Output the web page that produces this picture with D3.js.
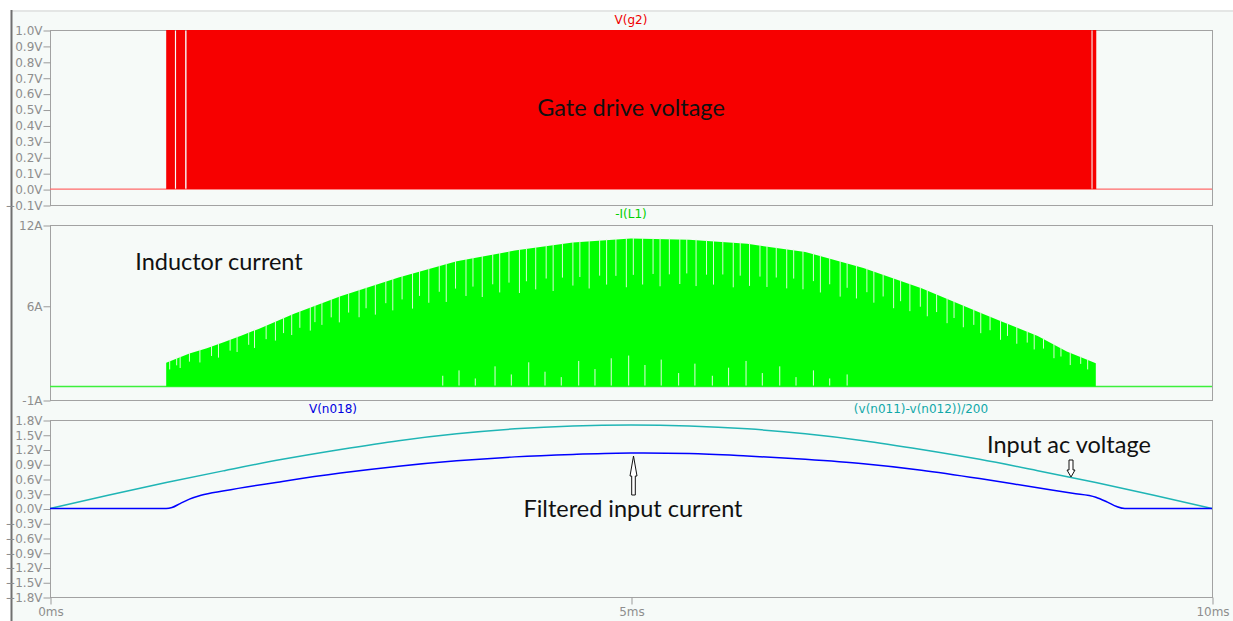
<!DOCTYPE html>
<html>
<head>
<meta charset="utf-8">
<script src="https://cdn.jsdelivr.net/npm/d3@7"></script>
<style>
  body { margin: 0; background: #fff; }
  .tick text { font-family: "DejaVu Sans", sans-serif; font-size: 12px; fill: #8e8e8e; }
  .tick line { stroke: #9a9a9a; }
  .trace-title { font-family: "DejaVu Sans", sans-serif; font-size: 12px; }
  .note { font-family: Lato, "Open Sans", sans-serif; font-size: 23.5px; fill: #111; }
</style>
</head>
<body>
<svg id="chart" width="1233" height="621"></svg>
<script>
// time axis (ms)
const xTicks = [0, 5, 10]

// V(g2): gate pulses, [on, off] in ms
const gatePulses = [[1.0, 1.075], [1.085, 1.163], [1.175, 8.963], [8.972, 9.004]]
const gateTicks = [-0.1, 0, 0.1, 0.2, 0.3, 0.4, 0.5, 0.6, 0.7, 0.8, 0.9, 1.0]

// -I(L1): peak envelope of the switching current (A)
const ilT = [1.0, 1.2, 1.35, 1.5, 1.65, 1.8, 1.95, 2.1, 2.3, 2.5, 3.0, 3.5, 4.0, 4.5, 5.0, 5.5, 6.0, 6.5, 7.0, 7.5, 8.0, 8.2, 8.5, 8.75, 9.0]
const ilPeak = [1.77, 2.45, 2.85, 3.3, 3.8, 4.3, 4.85, 5.4, 6.05, 6.7, 8.1, 9.3, 10.1, 10.7, 11.0, 10.9, 10.6, 10.0, 8.8, 7.3, 5.5, 4.8, 3.75, 2.6, 1.73]
// ripple valleys seen from the top: [ms, drop in A]
const ilDips = [
  [1.03, 0.6], [1.09, 0.5], [1.12, 0.8], [1.20, 0.6], [1.29, 0.9], [1.39, 0.7], [1.45, 1.0], [1.55, 0.8],
  [1.61, 1.1], [1.71, 0.9], [1.76, 1.3], [1.86, 1.0], [1.94, 1.4], [2.01, 1.1], [2.08, 1.5], [2.15, 1.2],
  [2.24, 1.7], [2.28, 1.2], [2.34, 1.6], [2.42, 1.3], [2.49, 1.9], [2.57, 1.4], [2.66, 2.0], [2.72, 1.5],
  [2.80, 2.2], [2.89, 1.6], [2.95, 2.3], [3.03, 1.7], [3.12, 2.6], [3.18, 1.8], [3.26, 2.5], [3.35, 1.9],
  [3.41, 2.8], [3.49, 2.0], [3.58, 2.7], [3.64, 2.1], [3.72, 3.0], [3.81, 2.2], [3.87, 2.9], [3.95, 2.3],
  [4.04, 3.2], [4.10, 2.4], [4.18, 3.1], [4.27, 2.4], [4.33, 3.4], [4.41, 2.5], [4.50, 3.2], [4.56, 2.6],
  [4.64, 3.5], [4.73, 2.6], [4.79, 3.3], [4.87, 2.7], [4.96, 3.6], [5.02, 2.7], [5.10, 3.4], [5.19, 2.6],
  [5.25, 3.5], [5.33, 2.6], [5.42, 3.3], [5.48, 2.5], [5.56, 3.4], [5.65, 2.5], [5.71, 3.2], [5.79, 2.4],
  [5.88, 3.3], [5.94, 2.4], [6.02, 3.1], [6.11, 2.3], [6.17, 3.0], [6.25, 2.2], [6.34, 2.9], [6.40, 2.1],
  [6.48, 2.8], [6.57, 2.0], [6.63, 2.7], [6.71, 1.9], [6.80, 2.6], [6.86, 1.8], [6.94, 2.4], [7.03, 1.7],
  [7.09, 2.3], [7.17, 1.6], [7.26, 2.2], [7.32, 1.5], [7.40, 2.0], [7.49, 1.4], [7.55, 1.9], [7.63, 1.3],
  [7.72, 1.8], [7.78, 1.2], [7.86, 1.6], [7.95, 1.1], [8.01, 1.5], [8.09, 1.0], [8.18, 1.4], [8.24, 0.9],
  [8.32, 1.2], [8.41, 0.8], [8.47, 1.1], [8.55, 0.7], [8.64, 1.0], [8.70, 0.6], [8.78, 0.9], [8.87, 0.5],
  [8.93, 0.7]
]
// cycles where the current falls back near zero: [ms, height of gap in A]
const ilGaps = [
  [3.38, 0.8], [3.52, 1.2], [3.66, 0.6], [3.83, 1.5], [3.97, 0.9], [4.12, 1.8], [4.26, 1.1], [4.40, 0.7],
  [4.55, 1.9], [4.69, 1.3], [4.83, 2.1], [4.98, 2.3], [5.12, 1.6], [5.26, 2.0], [5.41, 1.0], [5.55, 1.7],
  [5.70, 0.8], [5.84, 1.4], [5.99, 1.9], [6.13, 1.0], [6.28, 1.5], [6.42, 0.7], [6.57, 1.2], [6.71, 0.6],
  [6.86, 0.9]
]
const ilTicks = [-1, 6, 12]

// V(n018), filtered input current
const filtT = [0, 0.5, 1.0, 1.05, 1.12, 1.2, 1.3, 1.5, 2.0, 2.5, 3.0, 3.5, 4.0, 4.5, 5.0, 5.5, 6.0, 6.5, 7.0, 7.5, 8.0, 8.5, 8.8, 9.0, 9.1, 9.18, 9.25, 9.5, 10]
const filtV = [0, 0, 0, 0.02, 0.10, 0.19, 0.27, 0.36, 0.55, 0.72, 0.86, 0.97, 1.05, 1.10, 1.13, 1.12, 1.07, 1.00, 0.91, 0.78, 0.61, 0.42, 0.31, 0.23, 0.13, 0.04, 0, 0, 0]
// (v(n011)-v(n012))/200, input ac voltage
const acT = [0, 0.5, 1, 1.5, 2, 2.5, 3, 3.5, 4, 4.5, 5, 5.5, 6, 6.5, 7, 7.5, 8, 8.5, 9, 9.5, 10]
const acV = [0, 0.27, 0.53, 0.77, 1.0, 1.2, 1.38, 1.52, 1.62, 1.68, 1.7, 1.68, 1.62, 1.52, 1.38, 1.2, 1.0, 0.77, 0.53, 0.27, 0]
const vTicks = [-1.8, -1.5, -1.2, -0.9, -0.6, -0.3, 0, 0.3, 0.6, 0.9, 1.2, 1.5, 1.8]

const svg = d3.select("#chart")
const left = 50, right = 1212

// window background
svg.append("rect")
  .attr("x", 11).attr("y", 11).attr("width", 1222).attr("height", 610)
  .attr("fill", "#f6faf8")
svg.append("line")
  .attr("x1", 11).attr("x2", 1233).attr("y1", 11).attr("y2", 11)
  .attr("stroke", "#e4e6e5").attr("stroke-width", 2)
svg.append("line")
  .attr("x1", 11.5).attr("x2", 11.5).attr("y1", 10).attr("y2", 621)
  .attr("stroke", "#707070").attr("stroke-width", 2)

const x = d3.scaleLinear().domain([0, 10]).range([left, right])

function pane(top, bottom, domain, ticks, fmt) {
  const y = d3.scaleLinear().domain(domain).range([bottom, top])
  const g = svg.append("g")
  g.append("rect")
    .attr("x", left + 0.5).attr("y", top + 0.5)
    .attr("width", right - left).attr("height", bottom - top)
    .attr("fill", "none").attr("stroke", "#a2a2a2")
  const ax = g.append("g")
    .attr("transform", "translate(" + (left + 0.5) + ",0.5)")
    .call(d3.axisLeft(y).tickValues(ticks).tickFormat(fmt).tickSize(7).tickPadding(1))
  ax.select(".domain").remove()
  return { g: g, y: y }
}

function title(txt, cx, cy, colour) {
  svg.append("text")
    .attr("class", "trace-title")
    .attr("x", cx).attr("y", cy)
    .attr("text-anchor", "middle")
    .attr("fill", colour)
    .text(txt)
}

const fmtV = d => d3.format(".1f")(d) + "V"

// --- pane 1: gate drive ---
const p1 = pane(30, 205, [-0.1, 1.0], gateTicks, fmtV)
title("V(g2)", 631, 24, "#f00000")
p1.g.append("line")
  .attr("x1", x(0)).attr("x2", x(10))
  .attr("y1", p1.y(0)).attr("y2", p1.y(0))
  .attr("stroke", "#ff6a6a").attr("stroke-width", 1.2)
p1.g.selectAll(".pulse")
  .data(gatePulses)
  .join("rect")
  .attr("class", "pulse")
  .attr("x", d => x(d[0]))
  .attr("width", d => x(d[1]) - x(d[0]))
  .attr("y", p1.y(1.0))
  .attr("height", p1.y(0) - p1.y(1.0))
  .attr("fill", "#f70000")

// --- pane 2: inductor current ---
const p2 = pane(225, 400, [-1, 12], ilTicks, d => d + "A")
title("-I(L1)", 631, 218, "#00d000")
const env = d3.scaleLinear().domain(ilT).range(ilPeak)
p2.g.append("line")
  .attr("x1", x(0)).attr("x2", x(10))
  .attr("y1", p2.y(0)).attr("y2", p2.y(0))
  .attr("stroke", "#3cf03c").attr("stroke-width", 1.5)
p2.g.append("path")
  .datum(ilT)
  .attr("fill", "#00ff00")
  .attr("d", d3.area()
    .x(t => x(t))
    .y0(p2.y(0))
    .y1(t => p2.y(env(t))))
p2.g.selectAll(".dip")
  .data(ilDips)
  .join("line")
  .attr("class", "dip")
  .attr("x1", d => x(d[0])).attr("x2", d => x(d[0]))
  .attr("y1", d => p2.y(env(d[0])) - 1)
  .attr("y2", d => p2.y(env(d[0]) - d[1]))
  .attr("stroke", "#d9fbd4").attr("stroke-width", 1)
p2.g.selectAll(".gap")
  .data(ilGaps)
  .join("line")
  .attr("class", "gap")
  .attr("x1", d => x(d[0])).attr("x2", d => x(d[0]))
  .attr("y1", p2.y(0) - 1)
  .attr("y2", d => p2.y(d[1]))
  .attr("stroke", "#e4fbe0").attr("stroke-width", 1)

// --- pane 3: input voltage and filtered current ---
const p3 = pane(420, 597, [-1.8, 1.8], vTicks, fmtV)
title("V(n018)", 333, 413, "#0000e0")
title("(v(n011)-v(n012))/200", 921, 413, "#10a8a8")
p3.g.append("path")
  .datum(d3.zip(acT, acV))
  .attr("fill", "none")
  .attr("stroke", "#1fb5b5").attr("stroke-width", 1.5)
  .attr("d", d3.line().x(d => x(d[0])).y(d => p3.y(d[1])).curve(d3.curveMonotoneX))
p3.g.append("path")
  .datum(d3.zip(filtT, filtV))
  .attr("fill", "none")
  .attr("stroke", "#0000ff").attr("stroke-width", 1.5)
  .attr("d", d3.line().x(d => x(d[0])).y(d => p3.y(d[1])).curve(d3.curveMonotoneX))

// time axis under the last pane
const xa = svg.append("g")
  .attr("transform", "translate(0.5," + 597.5 + ")")
  .call(d3.axisBottom(x).tickValues(xTicks).tickFormat(d => d + "ms").tickSize(7).tickPadding(3))
xa.select(".domain").remove()

// annotations
function note(txt, cx, cy) {
  svg.append("text").attr("class", "note")
    .attr("x", cx).attr("y", cy).attr("text-anchor", "middle").text(txt)
}
note("Gate drive voltage", 631, 116)
note("Inductor current", 219, 270)
note("Filtered input current", 633, 517)
note("Input ac voltage", 1069, 453)

// hollow arrows
const upArrow = [[0, 0], [3.5, 20], [1.8, 20], [1.8, 39], [-1.8, 39], [-1.8, 20], [-3.5, 20]]
const downArrow = [[0, 0], [4, -7], [2, -7], [2, -17], [-2, -17], [-2, -7], [-4, -7]]
svg.append("path")
  .attr("transform", "translate(633.5,456)")
  .attr("d", d3.line()(upArrow) + "Z")
  .attr("fill", "#fff").attr("stroke", "#111").attr("stroke-width", 1)
svg.append("path")
  .attr("transform", "translate(1071,477)")
  .attr("d", d3.line()(downArrow) + "Z")
  .attr("fill", "#fff").attr("stroke", "#111").attr("stroke-width", 1)
</script>
</body>
</html>
